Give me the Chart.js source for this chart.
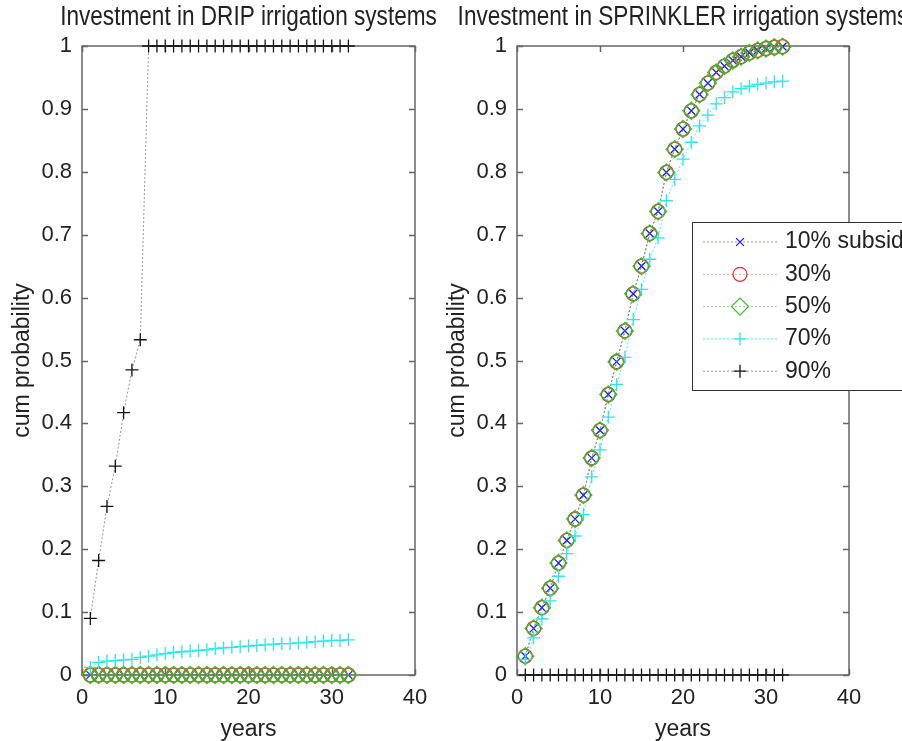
<!DOCTYPE html>
<html>
<head>
<meta charset="utf-8">
<script src="https://cdn.jsdelivr.net/npm/chart.js@4.4.1/dist/chart.umd.min.js"></script>
<style>
  html, body { margin: 0; padding: 0; background: #fff; }
  #wrap { position: relative; width: 902px; height: 741px; overflow: hidden; background: #fff; }
  canvas { position: absolute; left: 0; top: 0; }
</style>
</head>
<body>
<div id="wrap">
  <canvas id="dripChart" width="902" height="741"></canvas>
  <canvas id="sprinklerChart" width="902" height="741"></canvas>
</div>
<script>
// x values (years) and axis ticks
const years = [1, 2, 3, 4, 5, 6, 7, 8, 9, 10, 11, 12, 13, 14, 15, 16,
  17, 18, 19, 20, 21, 22, 23, 24, 25, 26, 27, 28, 29, 30, 31, 32];
const xTicks = [0, 10, 20, 30, 40];
const yTicks = [0, 0.1, 0.2, 0.3, 0.4, 0.5, 0.6, 0.7, 0.8, 0.9, 1];

// DRIP: cumulative probability per subsidy level
const drip10 = [0, 0, 0, 0, 0, 0, 0, 0, 0, 0, 0, 0, 0, 0, 0, 0,
  0, 0, 0, 0, 0, 0, 0, 0, 0, 0, 0, 0, 0, 0, 0, 0];
const drip30 = [0, 0, 0, 0, 0, 0, 0, 0, 0, 0, 0, 0, 0, 0, 0, 0,
  0, 0, 0, 0, 0, 0, 0, 0, 0, 0, 0, 0, 0, 0, 0, 0];
const drip50 = [0, 0, 0, 0, 0, 0, 0, 0, 0, 0, 0, 0, 0, 0, 0, 0,
  0, 0, 0, 0, 0, 0, 0, 0, 0, 0, 0, 0, 0, 0, 0, 0];
const drip70 = [0.012, 0.020, 0.022, 0.023, 0.024, 0.025, 0.028, 0.030, 0.032, 0.034, 0.036, 0.037, 0.038, 0.039, 0.040, 0.042,
  0.043, 0.044, 0.045, 0.046, 0.047, 0.048, 0.049, 0.050, 0.050, 0.051, 0.052, 0.053, 0.054, 0.055, 0.055, 0.056];
const drip90 = [0.090, 0.182, 0.268, 0.332, 0.417, 0.485, 0.533, 1, 1, 1, 1, 1, 1, 1, 1, 1,
  1, 1, 1, 1, 1, 1, 1, 1, 1, 1, 1, 1, 1, 1, 1, 1];

// SPRINKLER: cumulative probability per subsidy level
const spr10 = [0.030, 0.074, 0.107, 0.138, 0.178, 0.214, 0.248, 0.286, 0.345, 0.389, 0.446, 0.498, 0.547, 0.606, 0.650, 0.702,
  0.737, 0.799, 0.836, 0.868, 0.897, 0.923, 0.941, 0.958, 0.968, 0.977, 0.983, 0.989, 0.993, 0.996, 0.998, 0.999];
const spr30 = [0.030, 0.074, 0.107, 0.138, 0.178, 0.214, 0.248, 0.286, 0.345, 0.389, 0.446, 0.498, 0.547, 0.606, 0.650, 0.702,
  0.737, 0.799, 0.836, 0.868, 0.897, 0.923, 0.941, 0.958, 0.968, 0.977, 0.983, 0.989, 0.993, 0.996, 0.998, 0.999];
const spr50 = [0.030, 0.074, 0.107, 0.138, 0.178, 0.214, 0.248, 0.286, 0.345, 0.389, 0.446, 0.498, 0.547, 0.606, 0.650, 0.702,
  0.737, 0.799, 0.836, 0.868, 0.897, 0.923, 0.941, 0.958, 0.968, 0.977, 0.983, 0.989, 0.993, 0.996, 0.998, 0.999];
const spr70 = [0.025, 0.059, 0.089, 0.118, 0.157, 0.193, 0.221, 0.255, 0.315, 0.358, 0.410, 0.462, 0.505, 0.565, 0.613, 0.661,
  0.695, 0.754, 0.788, 0.820, 0.847, 0.873, 0.890, 0.908, 0.918, 0.927, 0.932, 0.936, 0.939, 0.941, 0.943, 0.944];
const spr90 = [0, 0, 0, 0, 0, 0, 0, 0, 0, 0, 0, 0, 0, 0, 0, 0,
  0, 0, 0, 0, 0, 0, 0, 0, 0, 0, 0, 0, 0, 0, 0, 0];

const seriesLabels = ["10% subsidy", "30%", "50%", "70%", "90%"];

// matlab-ish marker styles
const seriesStyle = [
  { color: "rgb(30, 30, 225)", line: "rgba(60, 60, 225, 0.55)", marker: "crossRot", size: 5.5 },
  { color: "rgb(235, 45, 45)", line: "rgba(235, 60, 60, 0.5)", marker: "circle", size: 7 },
  { color: "rgb(55, 190, 45)", line: "rgba(55, 190, 45, 0.5)", marker: "rectRot", size: 8.5 },
  { color: "rgb(45, 230, 230)", line: "rgba(45, 230, 230, 0.8)", marker: "cross", size: 6.5 },
  { color: "rgb(20, 20, 20)", line: "rgba(60, 60, 60, 0.55)", marker: "cross", size: 6.5 }
];

const FONT = '"Liberation Sans", Arial, sans-serif';
Chart.defaults.font.family = FONT;
Chart.defaults.font.size = 22;
Chart.defaults.color = "#222";

function buildDatasets(seriesList) {
  return seriesList.map((vals, i) => {
    const st = seriesStyle[i];
    return {
      label: seriesLabels[i],
      data: years.map((yr, j) => ({ x: yr, y: vals[j] })),
      borderColor: st.line,
      borderWidth: 1,
      borderDash: [2, 2],
      pointStyle: st.marker,
      pointRadius: st.size,
      pointBorderColor: st.color,
      pointBackgroundColor: "rgba(0,0,0,0)",
      pointBorderWidth: 1.3,
      tension: 0,
      clip: false,
      order: seriesList.length - i  // later series drawn on top, like matlab
    };
  });
}

// box around the axes with inward ticks on all four sides
const framePlugin = {
  id: "frame",
  beforeDatasetsDraw(chart) {
    const { ctx, chartArea: a, scales: { x, y } } = chart;
    ctx.save();
    ctx.strokeStyle = "#666";
    ctx.lineWidth = 1.5;
    ctx.strokeRect(a.left, a.top, a.width, a.height);
    ctx.beginPath();
    x.ticks.forEach(t => {
      const px = Math.round(x.getPixelForValue(t.value)) + 0.5;
      ctx.moveTo(px, a.bottom); ctx.lineTo(px, a.bottom - 6);
      ctx.moveTo(px, a.top); ctx.lineTo(px, a.top + 6);
    });
    y.ticks.forEach(t => {
      const py = Math.round(y.getPixelForValue(t.value)) + 0.5;
      ctx.moveTo(a.left, py); ctx.lineTo(a.left + 6, py);
      ctx.moveTo(a.right, py); ctx.lineTo(a.right - 6, py);
    });
    ctx.stroke();
    ctx.restore();
  }
};

// title centred over the axes box (glyphs a bit tall, like the source figure)
const plotTitlePlugin = {
  id: "plotTitle",
  afterDraw(chart, args, opts) {
    const { ctx, chartArea: a } = chart;
    ctx.save();
    ctx.translate((a.left + a.right) / 2, 18);
    ctx.scale(1, 1.2);
    ctx.font = "22.6px " + FONT;
    ctx.fillStyle = "#222";
    ctx.textAlign = "center";
    ctx.textBaseline = "middle";
    ctx.fillText(opts.text, 0, 0);
    ctx.restore();
  }
};

// legend box inside the sprinkler axes
const boxLegendPlugin = {
  id: "boxLegend",
  afterDraw(chart, args, opts) {
    if (!opts.show) return;
    const { ctx, chartArea: a } = chart;
    const left = a.left + 175, top = 222, h = 168;
    ctx.save();
    ctx.fillStyle = "#fff";
    ctx.fillRect(left, top, 260, h);
    ctx.strokeStyle = "#333";
    ctx.lineWidth = 1;
    ctx.strokeRect(left + 0.5, top + 0.5, 260, h);
    chart.data.datasets.forEach((ds, i) => {
      const yy = top + 20 + i * 32.3;
      ctx.strokeStyle = ds.borderColor;
      ctx.setLineDash([2, 2]);
      ctx.beginPath();
      ctx.moveTo(left + 11, yy); ctx.lineTo(left + 85, yy);
      ctx.stroke();
      ctx.setLineDash([]);
      ctx.strokeStyle = ds.pointBorderColor;
      ctx.fillStyle = "rgba(0,0,0,0)";
      ctx.lineWidth = ds.pointBorderWidth;
      Chart.helpers.drawPoint(ctx, { pointStyle: ds.pointStyle, radius: ds.pointRadius, borderWidth: ds.pointBorderWidth, rotation: 0 }, left + 48, yy);
      ctx.lineWidth = 1;
      ctx.fillStyle = "#222";
      ctx.font = "23px " + FONT;
      ctx.textBaseline = "middle";
      ctx.fillText(ds.label, left + 93, yy);
    });
    ctx.restore();
  }
};

function makeChart(id, titleText, seriesList, padLeft, padRight, showLegend) {
  const ctx = document.getElementById(id).getContext("2d");
  return new Chart(ctx, {
    type: "line",
    data: { datasets: buildDatasets(seriesList) },
    options: {
      responsive: false,
      animation: false,
      devicePixelRatio: 1,
      layout: { padding: { left: padLeft, right: padRight, top: 46, bottom: 0 } },
      plugins: {
        legend: { display: false },
        tooltip: { enabled: false },
        plotTitle: { text: titleText },
        boxLegend: { show: showLegend }
      },
      scales: {
        x: {
          type: "linear",
          min: 0, max: 40,
          afterBuildTicks: s => { s.ticks = xTicks.map(v => ({ value: v })); },
          afterFit: s => { s.height = 66; },
          grid: { display: false, drawTicks: false },
          border: { display: false },
          ticks: { padding: 9.5, maxRotation: 0, color: "#222" },
          title: { display: true, text: "years", font: { size: 23 }, padding: { top: 0, bottom: -2.5 }, color: "#222" }
        },
        y: {
          type: "linear",
          min: 0, max: 1,
          afterBuildTicks: s => { s.ticks = yTicks.map(v => ({ value: v })); },
          afterFit: s => { s.width = 82; },
          grid: { display: false, drawTicks: false },
          border: { display: false },
          ticks: { padding: 10, color: "#222", callback: v => String(v) },
          title: { display: true, text: "cum probability", font: { size: 23 }, padding: { top: 8.5, bottom: 0 }, color: "#222" }
        }
      }
    },
    plugins: [framePlugin, plotTitlePlugin, boxLegendPlugin]
  });
}

makeChart("dripChart", "Investment in DRIP irrigation systems",
  [drip10, drip30, drip50, drip70, drip90], 0, 487, false);
makeChart("sprinklerChart", "Investment in SPRINKLER irrigation systems",
  [spr10, spr30, spr50, spr70, spr90], 435, 53, true);
</script>
</body>
</html>
